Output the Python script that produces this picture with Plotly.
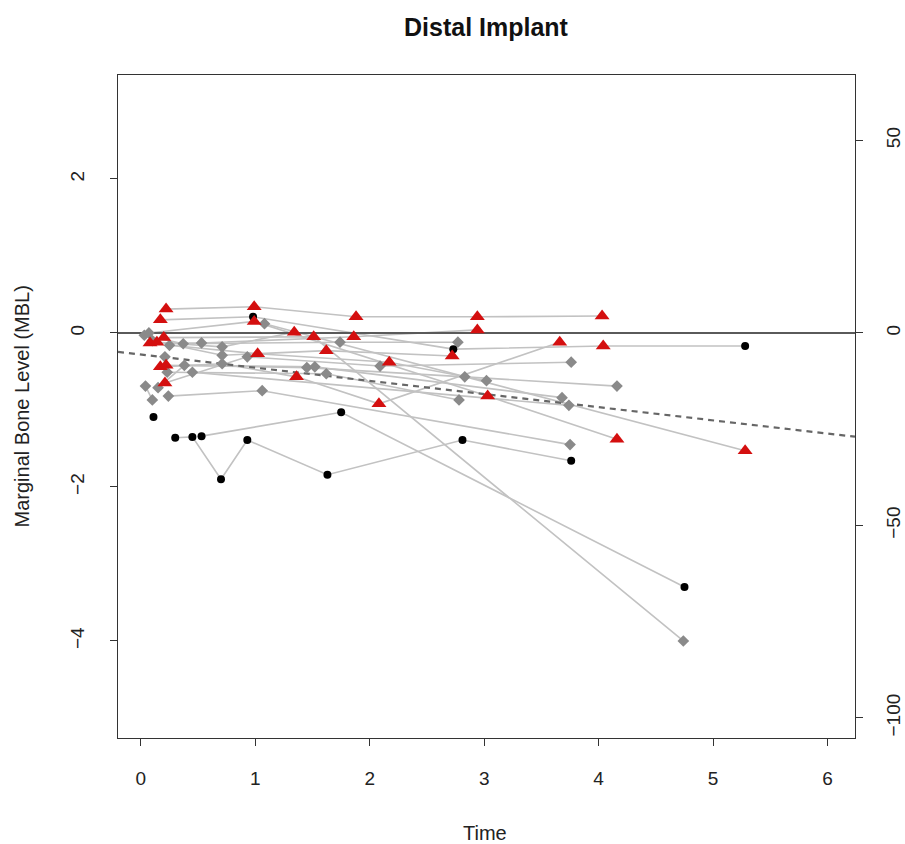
import plotly.graph_objects as go

# ---------------- data ----------------
patient_id = [1, 1, 1, 1, 1,
              2, 2, 2, 2,
              3, 3, 3, 3, 3,
              4, 4,
              5, 5, 5,
              6, 6, 6,
              7, 7, 7, 7, 7, 7, 7,
              8,
              9, 9, 9,
              10, 10, 10, 10,
              11, 11, 11, 11, 11,
              12, 12, 12, 12,
              13, 13, 13,
              14, 14,
              15, 15,
              16, 16, 16, 16,
              17, 17, 17, 17,
              18, 18, 18, 18,
              19, 19, 19,
              20, 20, 20, 20,
              21, 21, 21, 21,
              22]
time = [0.22, 0.99, 1.88, 2.94, 4.03,
        0.07, 0.99, 3.03, 4.16,
        0.17, 0.98, 2.73, 4.04, 5.28,
        1.08, 5.28,
        0.20, 1.51, 4.74,
        0.53, 1.75, 4.75,
        0.30, 0.45, 0.70, 0.93, 1.63, 2.81, 3.76,
        0.11,
        0.24, 1.06, 3.75,
        0.21, 0.93, 2.09, 3.76,
        0.17, 0.71, 1.36, 2.08, 3.66,
        0.22, 1.45, 2.83, 4.16,
        0.23, 1.62, 2.78,
        0.45, 3.74,
        0.04, 0.10,
        0.15, 0.38, 1.52, 3.68,
        0.03, 0.37, 1.74, 2.77,
        0.08, 0.53, 1.86, 2.94,
        0.14, 0.71, 1.34,
        0.10, 0.71, 1.62, 2.72,
        0.25, 1.02, 2.17, 3.02,
        0.21]
mbl = [0.31, 0.34, 0.21, 0.21, 0.22,
       0.00, 0.15, -0.82, -1.38,
       0.17, 0.21, -0.21, -0.17, -0.17,
       0.12, -1.53,
       -0.06, -0.05, -4.00,
       -1.34, -1.03, -3.30,
       -1.36, -1.35, -1.90, -1.39, -1.84, -1.39, -1.66,
       -1.09,
       -0.82, -0.75, -1.45,
       -0.65, -0.31, -0.43, -0.38,
       -0.44, -0.40, -0.57, -0.92, -0.12,
       -0.42, -0.45, -0.57, -0.69,
       -0.51, -0.53, -0.87,
       -0.51, -0.94,
       -0.69, -0.87,
       -0.71, -0.42, -0.44, -0.84,
       -0.03, -0.14, -0.12, -0.12,
       -0.13, -0.13, -0.05, 0.04,
       -0.12, -0.18, 0.01,
       -0.10, -0.29, -0.23, -0.30,
       -0.16, -0.27, -0.38, -0.62,
       -0.31]
group = ["R", "R", "R", "R", "R",
         "G", "R", "R", "R",
         "R", "B", "B", "R", "B",
         "G", "R",
         "R", "R", "G",
         "B", "B", "B",
         "B", "B", "B", "B", "B", "B", "B",
         "B",
         "G", "G", "G",
         "R", "G", "G", "G",
         "R", "G", "R", "R", "R",
         "R", "G", "G", "G",
         "G", "G", "G",
         "G", "G",
         "G", "G",
         "G", "G", "G", "G",
         "G", "G", "G", "G",
         "R", "G", "R", "R",
         "R", "G", "R",
         "G", "G", "R", "R",
         "G", "R", "R", "G",
         "G"]

# fitted population line (dashed)
fit_intercept = -0.28
fit_slope = -0.171

x_ticks = [0, 1, 2, 3, 4, 5, 6]
y_ticks = [-4, -2, 0, 2]
y2_ticks = [-100, -50, 0, 50]

x_range = [-0.2, 6.24]
y_range = [-5.26, 3.35]
y2_scale = 20.0
y2_range = [v * y2_scale for v in y_range]

# ---------------- figure ----------------
FONT = "Liberation Sans, Arial, Helvetica, sans-serif"
fig = go.Figure()

# patient trajectories (one polyline per patient, separated by None)
lx, ly = [], []
prev = None
for p, t, m in zip(patient_id, time, mbl):
    if prev is not None and p != prev:
        lx.append(None)
        ly.append(None)
    lx.append(t)
    ly.append(m)
    prev = p
fig.add_trace(go.Scatter(x=lx, y=ly, mode="lines",
                         line=dict(color="#c2c2c2", width=1.6),
                         hoverinfo="skip", showlegend=False))

# zero reference line
fig.add_trace(go.Scatter(x=x_range, y=[0, 0], mode="lines",
                         line=dict(color="#5a5a5a", width=2),
                         hoverinfo="skip", showlegend=False))
# dashed fitted line
fig.add_trace(go.Scatter(x=x_range,
                         y=[fit_intercept + fit_slope * xv for xv in x_range],
                         mode="lines",
                         line=dict(color="#666666", width=2.2, dash="6px,5px"),
                         hoverinfo="skip", showlegend=False))

styles = {
    "G": dict(symbol="diamond", size=9, color="#8a8a8a"),
    "B": dict(symbol="circle", size=8, color="#000000"),
    "R": dict(symbol="triangle-up", size=13, color="#d40f0f"),
}
for g in ["G", "B", "R"]:
    xs = [t for t, gg in zip(time, group) if gg == g]
    ys = [m for m, gg in zip(mbl, group) if gg == g]
    st = styles[g]
    fig.add_trace(go.Scatter(x=xs, y=ys, mode="markers",
                             marker=dict(symbol=st["symbol"], size=st["size"],
                                         color=st["color"], line=dict(width=0)),
                             showlegend=False))

# empty trace to activate the right axis
fig.add_trace(go.Scatter(x=[], y=[], yaxis="y2", showlegend=False, hoverinfo="skip"))

axis_common = dict(showgrid=False, zeroline=False, showline=True, linecolor="#333333",
                   linewidth=1.3, ticks="outside", ticklen=7, tickwidth=1.2,
                   tickcolor="#333333", automargin=False,
                   tickfont=dict(family=FONT, size=19, color="#222222"))

fig.update_layout(
    width=905, height=844,
    autosize=False,
    margin=dict(l=118, r=50, t=75, b=106),
    paper_bgcolor="white", plot_bgcolor="white",
    font=dict(family=FONT),
    xaxis=dict(range=x_range, tickvals=x_ticks, mirror=True,
               ticklabelstandoff=16, **axis_common),
    yaxis=dict(range=y_range, tickvals=y_ticks, tickangle=-90, mirror=True,
               ticklabelstandoff=18, **axis_common),
    yaxis2=dict(range=y2_range, tickvals=y2_ticks, tickangle=-90, overlaying="y",
                side="right", ticklabelstandoff=14, **axis_common),
    annotations=[
        dict(text="<b>Distal Implant</b>", x=0.5, y=(738 - 27) / 663, xref="paper", yref="paper",
             showarrow=False, xanchor="center", yanchor="middle",
             font=dict(family=FONT, size=25, color="#111111")),
        dict(text="Time", x=0.498, y=(738 - 833) / 663, xref="paper", yref="paper",
             showarrow=False, xanchor="center", yanchor="middle",
             font=dict(family=FONT, size=20, color="#222222")),
        dict(text="Marginal Bone Level (MBL)", x=-0.1303, y=0.5, xref="paper",
             yref="paper", showarrow=False, xanchor="center", yanchor="middle", textangle=-90,
             font=dict(family=FONT, size=20, color="#222222")),
    ],
)

fig.write_html(
    "out.html",
    config={"displayModeBar": False, "responsive": False},
    post_script="document.body.style.margin='0px';document.body.style.overflow='hidden';"
                "document.documentElement.style.overflow='hidden';",
)
